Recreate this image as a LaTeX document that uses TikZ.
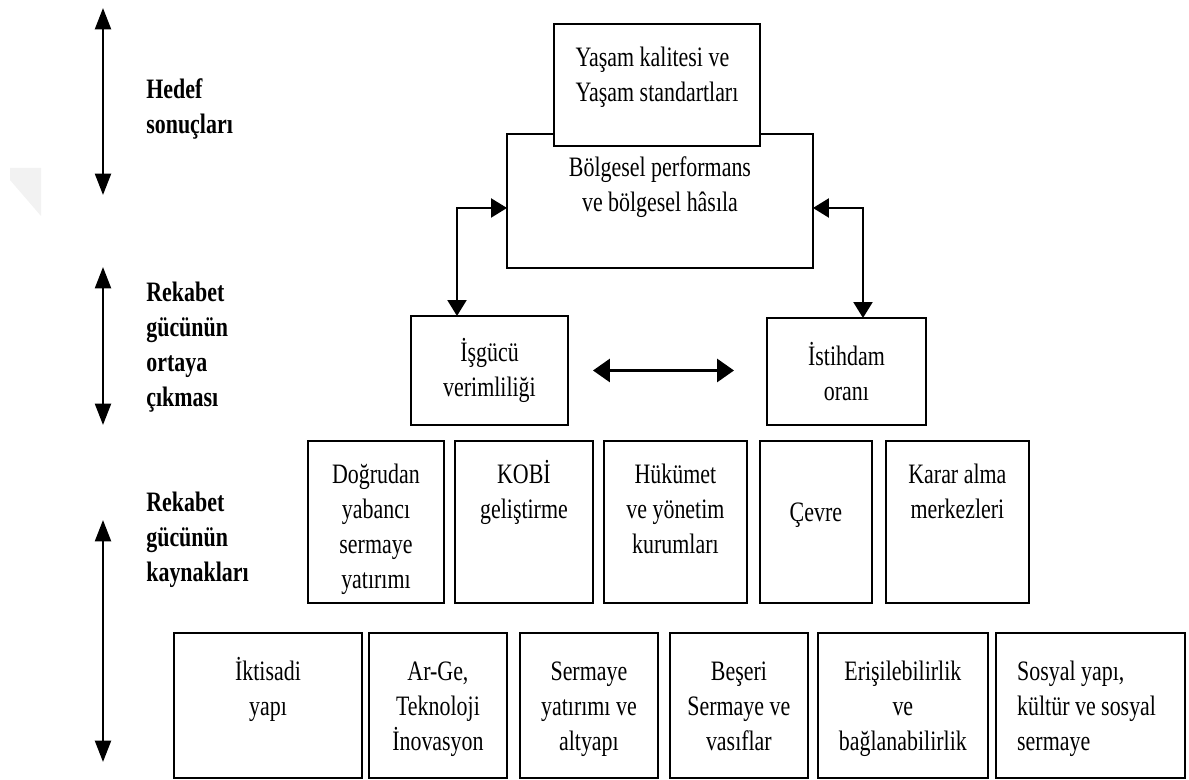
\documentclass[tikz,border=0pt]{standalone}
\usepackage{fontspec}
\setmainfont{Liberation Serif}[FakeStretch=0.78]
\usetikzlibrary{arrows.meta, positioning}

\tikzset{
  box/.style={draw, line width=1.1pt, fill=white, inner sep=0pt, outer sep=0pt, anchor=north west},
  txt/.style={align=center, inner sep=0pt, font=\fontsize{16}{19.9}\selectfont},
  hang/.style 2 args={label={[txt, anchor=north, yshift=#1]north:\strut #2}},
  stage/.style={align=left, inner sep=0pt, anchor=north west, font=\fontsize{16}{19.9}\selectfont\bfseries},
  updown/.style={line width=1.4pt, {Triangle[length=0.43cm, width=0.32cm]}-{Triangle[length=0.43cm, width=0.32cm]}},
  link/.style={line width=1.3pt, {Triangle[length=0.32cm, width=0.38cm]}-{Triangle[length=0.32cm, width=0.38cm]}},
}

\begin{document}
\begin{tikzpicture}[x=0.02cm, y=-0.02cm]
   \useasboundingbox (0,0) rectangle (1189,780);
   % faint page fold
   \fill[black!5] (10,168) -- (41,168) -- (41,216) -- (10,180) -- cycle;

   % levels on the left
   \coordinate (h1) at (103,8);   \coordinate (h2) at (103,195);
   \coordinate (r1) at (103,267); \coordinate (r2) at (103,425);
   \coordinate (k1) at (103,520); \coordinate (k2) at (103,762);
   \draw[updown] (h1) -- (h2);
   \draw[updown] (r1) -- (r2);
   \draw[updown] (k1) -- (k2);
   \node (hedef)[stage] at (146,74) {\strut Hedef\\sonuçları};
   \node (ortaya)[stage] at (146,277) {\strut Rekabet\\gücünün\\ortaya\\çıkması};
   \node (kaynak)[stage] at (146,487) {\strut Rekabet\\gücünün\\kaynakları};

   % target outcomes
   \node (bolge)[box, minimum width=6.12cm, minimum height=2.68cm, hang={-0.36cm}{Bölgesel performans\\ve bölgesel hâsıla}] at (507,134) {};
   \node (yasam)[box, minimum width=4.12cm, minimum height=2.44cm, hang={-0.36cm, align=left}{Yaşam kalitesi ve\\Yaşam standartları}] at (554,24) {};

   % revealed competitiveness
   \node (isgucu)[box, txt, minimum width=3.14cm, minimum height=2.18cm] at (411,316) {İşgücü\\verimliliği};
   \node (istih)[box, txt, minimum width=3.18cm, minimum height=2.14cm] at (767,318) {İstihdam\\oranı};

   % sources
   \node (dogru)[box, minimum width=2.72cm, minimum height=3.24cm, hang={-0.36cm}{Doğrudan\\yabancı\\sermaye\\yatırımı}] at (308,441) {};
   \node (kobi)[box, minimum width=2.76cm, minimum height=3.24cm, right=0.22cm of dogru, hang={-0.36cm}{KOBİ\\geliştirme}] {};
   \node (hukumet)[box, minimum width=2.86cm, minimum height=3.24cm, right=0.22cm of kobi, hang={-0.36cm}{Hükümet\\ve yönetim\\kurumları}] {};
   \node (cevre)[box, minimum width=2.24cm, minimum height=3.24cm, right=0.26cm of hukumet,
      label={[txt, yshift=0.14cm]center:Çevre}] {};
   \node (karar)[box, minimum width=2.86cm, minimum height=3.24cm, right=0.28cm of cevre, hang={-0.36cm}{Karar alma\\merkezleri}] {};

   \node (iktisat)[box, minimum width=3.76cm, minimum height=2.9cm, hang={-0.46cm}{İktisadi\\yapı}] at (174,633) {};
   \node (arge)[box, minimum width=2.76cm, minimum height=2.9cm, right=0.14cm of iktisat, hang={-0.46cm}{Ar-Ge,\\Teknoloji\\İnovasyon}] {};
   \node (sermaye)[box, minimum width=2.76cm, minimum height=2.9cm, right=0.26cm of arge, hang={-0.46cm}{Sermaye\\yatırımı ve\\altyapı}] {};
   \node (beseri)[box, minimum width=2.76cm, minimum height=2.9cm, right=0.24cm of sermaye, hang={-0.46cm}{Beşeri\\Sermaye ve\\vasıflar}] {};
   \node (erisim)[box, minimum width=3.4cm, minimum height=2.9cm, right=0.2cm of beseri, hang={-0.46cm}{Erişilebilirlik\\ve\\bağlanabilirlik}] {};
   \node (sosyal)[box, minimum width=3.78cm, minimum height=2.9cm, right=0.16cm of erisim,
      label={[txt, align=left, anchor=north west, xshift=0.42cm, yshift=-0.46cm]north west:\strut Sosyal yapı,\\kültür ve sosyal\\sermaye}] {};

   \draw[link] ([xshift=-0.65cm]isgucu.north) |- ([yshift=-0.14cm]bolge.west);
   \draw[link] ([xshift=0.33cm]istih.north) |- ([yshift=-0.14cm]bolge.east);
   \draw[link, line width=1.8pt, {Triangle[length=0.34cm, width=0.46cm]}-{Triangle[length=0.34cm, width=0.46cm]}] ([xshift=0.5cm]isgucu.east) -- ([xshift=-0.66cm]isgucu.east -| istih.west);
\end{tikzpicture}
\end{document}
